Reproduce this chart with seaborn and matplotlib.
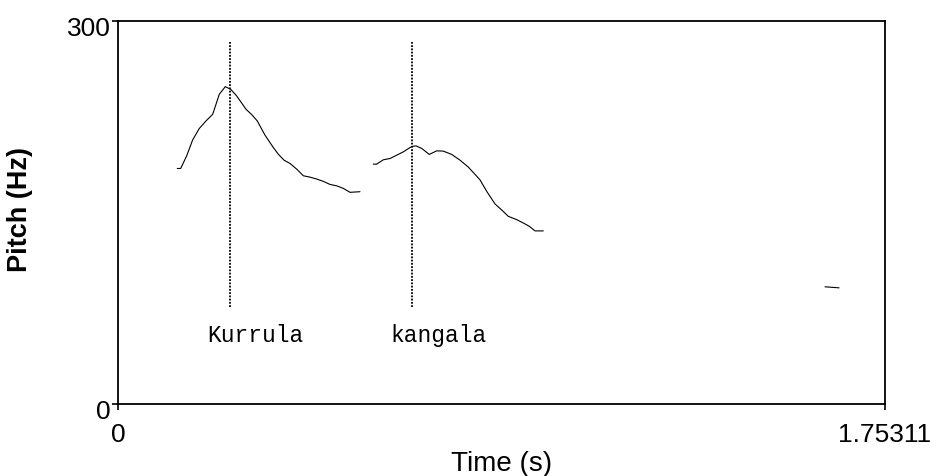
import numpy as np
import pandas as pd
import matplotlib
matplotlib.use("Agg")
import matplotlib.pyplot as plt
import matplotlib.transforms as mtransforms
import seaborn as sns

# ---- data ----
seg1_time = [0.1355, 0.1433, 0.1570, 0.1707, 0.1858, 0.2011, 0.2165, 0.2315, 0.2453,
             0.2576, 0.2713, 0.2926, 0.3056, 0.3184, 0.3360, 0.3550, 0.3664, 0.3794,
             0.3931, 0.4085, 0.4235, 0.4389, 0.4542, 0.4693, 0.4846, 0.4999, 0.5150,
             0.5303, 0.5531]
seg1_pitch = [184.1, 184.1, 194.0, 206.5, 215.4, 221.3, 226.6, 242.2, 248.2,
              246.1, 240.9, 230.5, 226.3, 221.3, 210.2, 200.5, 195.3, 190.6,
              188.0, 183.6, 178.4, 177.3, 175.8, 174.0, 171.6, 170.5, 168.5,
              165.4, 165.9]

seg2_time = [0.5835, 0.5913, 0.6064, 0.6217, 0.6370, 0.6521, 0.6713, 0.6811, 0.6942,
             0.7115, 0.7285, 0.7435, 0.7627, 0.7817, 0.8007, 0.8274, 0.8427, 0.8617,
             0.8770, 0.8921, 0.9113, 0.9264, 0.9401, 0.9531, 0.9721]
seg2_pitch = [187.5, 187.5, 190.9, 191.9, 194.5, 197.1, 201.3, 201.8, 199.8,
              195.1, 197.9, 197.7, 195.1, 190.6, 185.2, 175.2, 166.2, 156.3,
              151.6, 146.6, 144.0, 141.4, 138.8, 135.2, 135.2]

seg3_time = [1.6160, 1.6480]
seg3_pitch = [91.4, 90.6]

word_labels = ["Kurrula", "kangala"]
word_times = [0.2549, 0.6731]          # vertical marker positions (s)
word_label_times = [0.3143, 0.7337]    # label centres (s)
marker_low, marker_high = 75.8, 282.8  # vertical marker extent (Hz)
label_pitch = 49.2                     # label baseline (Hz)

x_min, x_max = 0.0, 1.75311
y_min, y_max = 0, 300
x_tick_labels = ["0", "1.75311"]
y_tick_labels = ["0", "300"]

df = pd.concat([
    pd.DataFrame({"time": seg1_time, "pitch": seg1_pitch, "seg": 1}),
    pd.DataFrame({"time": seg2_time, "pitch": seg2_pitch, "seg": 2}),
    pd.DataFrame({"time": seg3_time, "pitch": seg3_pitch, "seg": 3}),
])

# ---- style ----
sns.set_theme(style="white")
plt.rcParams["font.family"] = ["Liberation Sans", "DejaVu Sans"]

fig = plt.figure(figsize=(9.37, 4.77), dpi=100)
W, H = 937, 477
left, right, top, bottom = 118, 885, 21.5, 404.5
ax = fig.add_axes([left / W, (H - bottom) / H, (right - left) / W, (bottom - top) / H])

for seg, sub in df.groupby("seg"):
    sns.lineplot(data=sub, x="time", y="pitch", ax=ax, color="black",
                 linewidth=0.8, sort=False, estimator=None, legend=False)

ax.vlines(word_times, marker_low, marker_high, colors="black",
          linestyles=(0, (1, 0.8)), linewidth=1.3)
for lab, t in zip(word_labels, word_label_times):
    ax.text(t, label_pitch, lab, ha="center", va="baseline",
            family=["Liberation Mono", "DejaVu Sans Mono"], fontsize=16.5, color="black")

ax.set_xlim(x_min, x_max)
ax.set_ylim(y_min, y_max)
ax.set_xticks([x_min, x_max], x_tick_labels)
ax.set_yticks([y_min, y_max], y_tick_labels)

for sp in ax.spines.values():
    sp.set_visible(True)
    sp.set_color("black")
    sp.set_linewidth(1.3)

ax.tick_params(axis="both", direction="out", length=4, width=1.2, color="black",
               labelsize=19, labelcolor="black")
ax.tick_params(axis="x", pad=9)
ax.tick_params(axis="y", pad=1.5)
ax.tick_params(left=True, bottom=True)

offset = mtransforms.ScaledTranslation(0, -5 / 100, fig.dpi_scale_trans)
for lbl in ax.get_yticklabels():
    lbl.set_transform(lbl.get_transform() + offset)

ax.set_xlabel("Time (s)", fontsize=20, color="black")
ax.set_ylabel("Pitch (Hz)", fontsize=19.5, fontweight="bold", color="black")
ax.xaxis.set_label_coords(0.5, (bottom - 464) / (bottom - top))
ax.xaxis.label.set_verticalalignment("center")
ax.yaxis.set_label_coords((20 - left) / (right - left), (bottom - 210) / (bottom - top))
ax.yaxis.label.set_verticalalignment("center")

fig.savefig("out.png", dpi=100, facecolor="white")
